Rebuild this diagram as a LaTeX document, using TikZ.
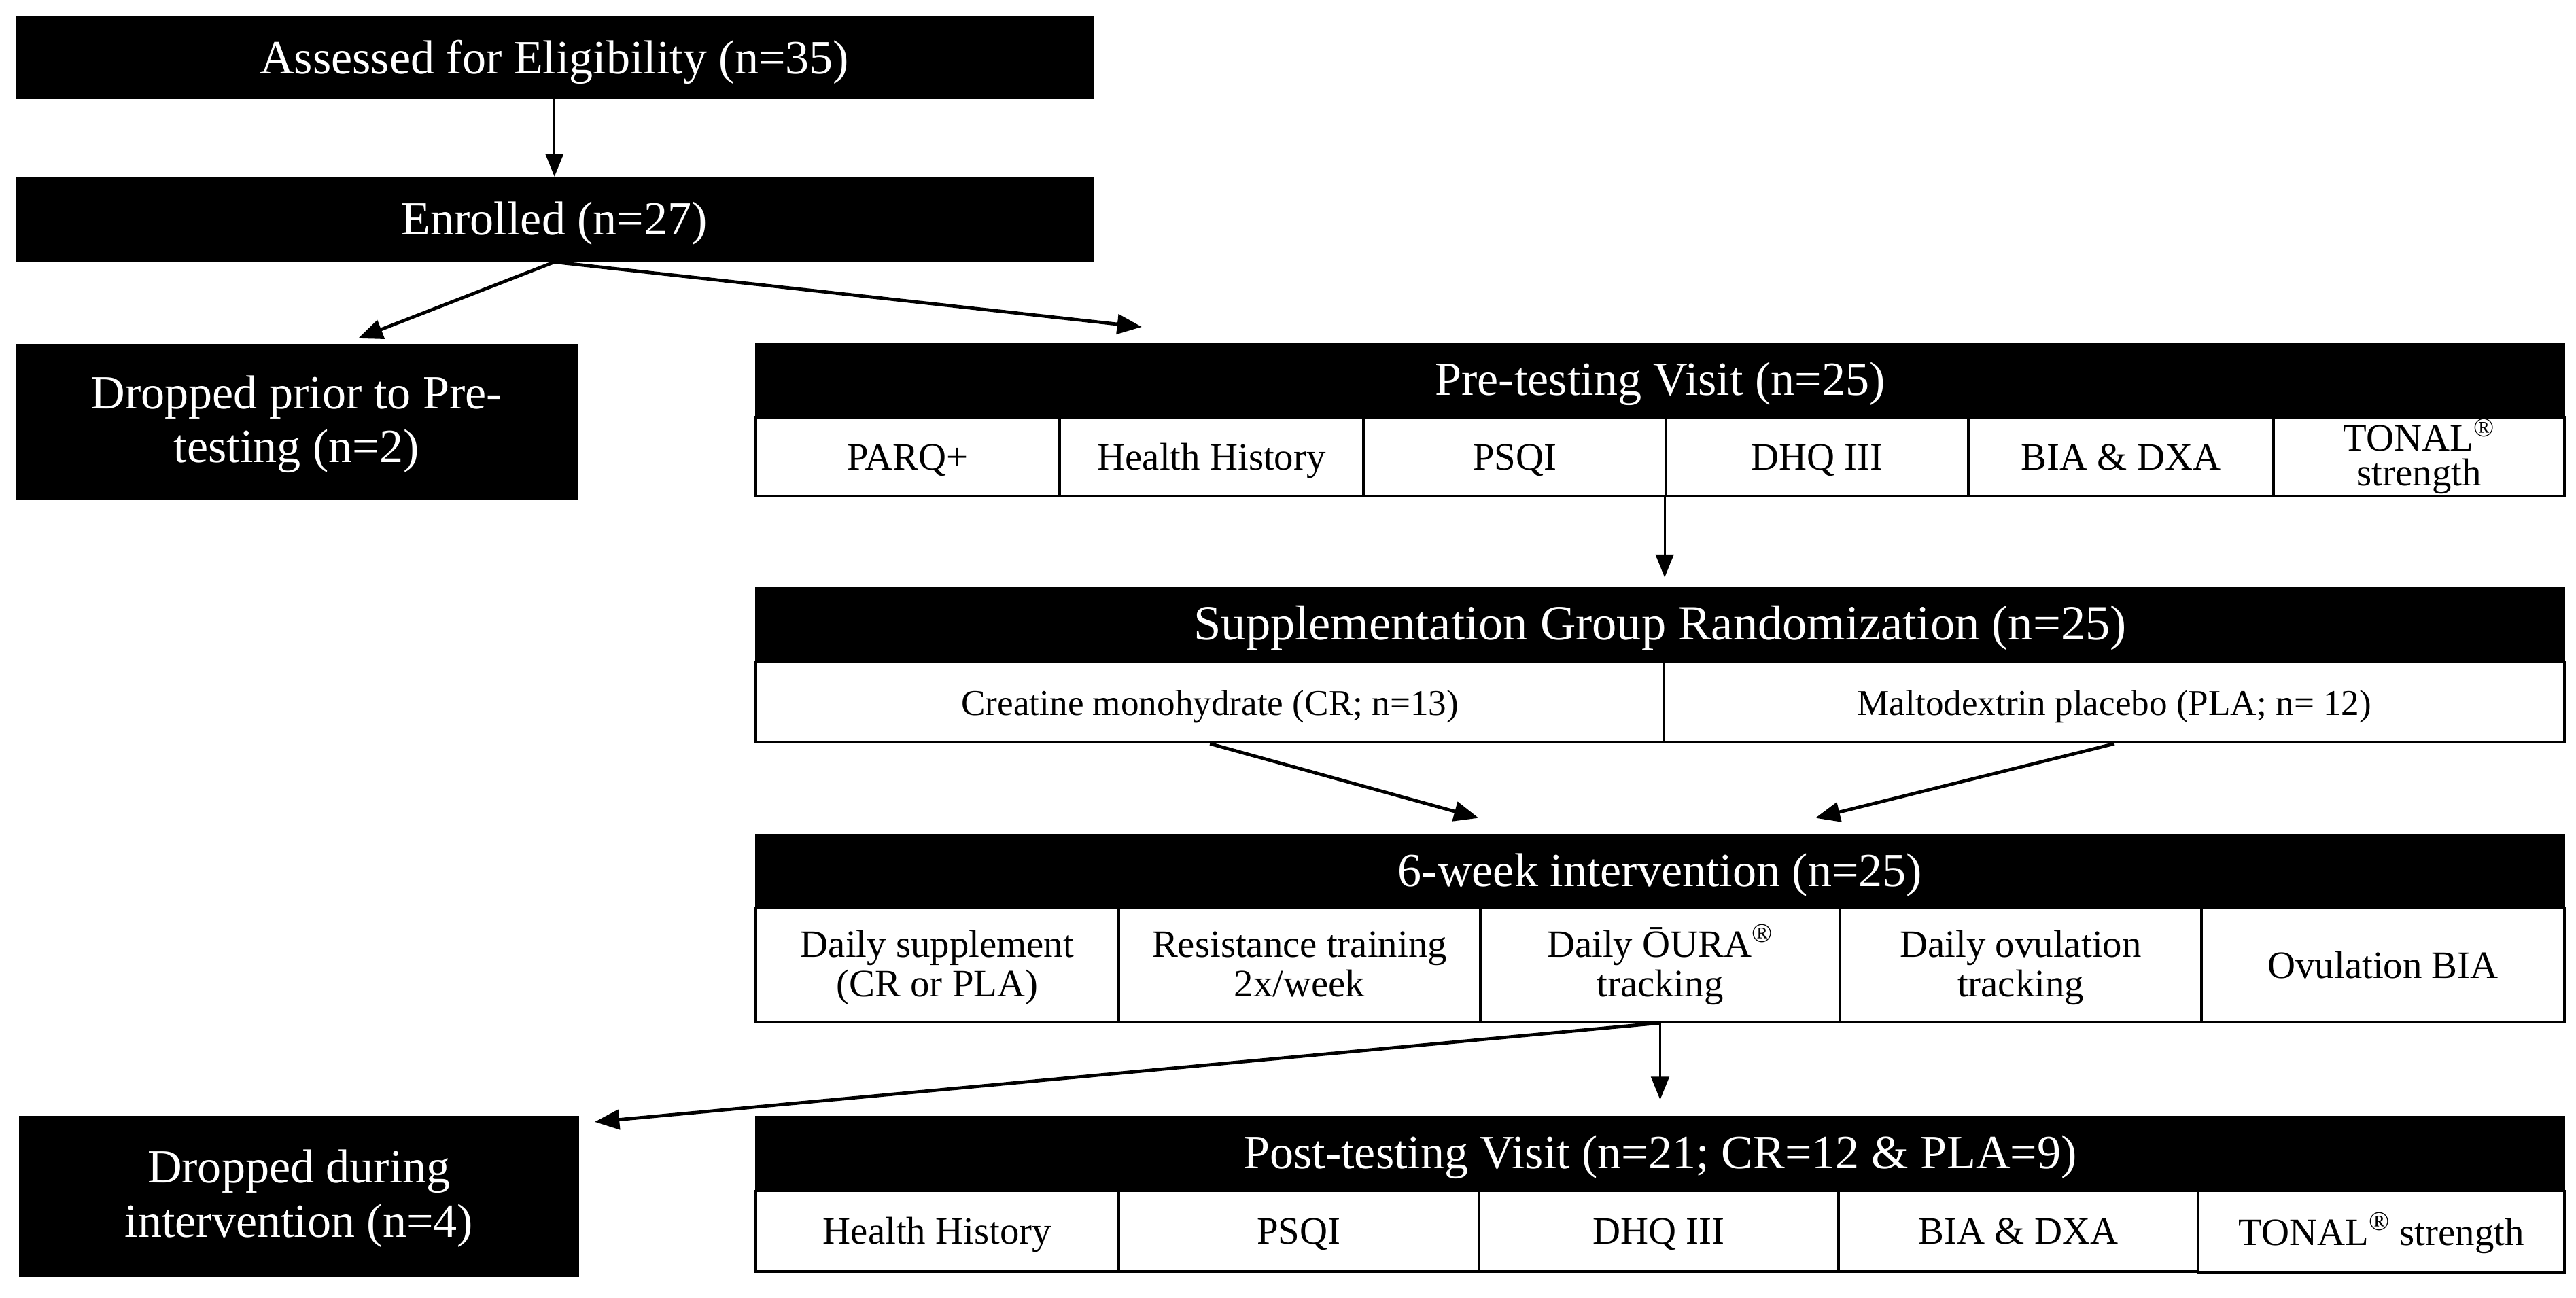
\documentclass[tikz,border=0pt]{standalone}
\usepackage{fontspec}
\setmainfont{Liberation Serif}
\usetikzlibrary{arrows.meta,calc}
\tikzset{
  blkbase/.style={draw=black, fill=black, text=white, inner sep=0pt, line width=1pt,
    font=\fontsize{29}{33}\selectfont, align=center},
  blk/.style={blkbase, text height=18pt, text depth=0pt},
  blkm/.style={blkbase},
  cellbase/.style={draw=black, fill=white, text=black, inner sep=0pt, line width=1.5pt,
    font=\fontsize{23.5}{24}\selectfont, align=center},
  cell/.style={cellbase, text height=16pt, text depth=0pt},
  cellm/.style={cellbase},
  scell/.style={cell, font=\fontsize{22}{24}\selectfont},
  arr/.style={-{Triangle[length=14pt,width=11pt]}, line width=1.3pt},
  darr/.style={-{Triangle[length=15pt,width=12pt]}, line width=2pt},
  sz/.style 2 args={minimum width=#1pt, minimum height=#2pt},
}
\newcommand{\twocell}[2]{\rule{0pt}{20pt}#1\\#2\rule[-5.5pt]{0pt}{5.5pt}}
\newcommand{\twoblk}[2]{\rule{0pt}{22.9pt}#1\\#2\rule[-6.5pt]{0pt}{6.5pt}}
\begin{document}
\begin{tikzpicture}[x=1pt,y=-1pt]
\useasboundingbox (0,0) rectangle (1568,790);
% top boxes
\node[blk, text height=20pt, sz={655}{50}] (A) at (337.5,35) {Assessed for Eligibility (n=35)};
\node[blk, text height=18.6pt, sz={655}{51}] (E) at (337.5,133.5) {Enrolled (n=27)};
\node[blkm, sz={341}{94}] (D1) at (180.5,257) {\twoblk{Dropped prior to Pre-}{testing (n=2)}};
% pre-testing
\node[blk, sz={1101}{45}] (PreH) at (1010.5,231.5) {Pre-testing Visit (n=25)};
\node[cell, sz={185}{48}] (p1) at (552.5,278) {PARQ+};
\node[cell, sz={185}{48}] (p2) at (737.5,278) {Health History};
\node[cell, sz={184}{48}] (p3) at (922,278) {PSQI};
\node[cell, sz={184}{48}] (p4) at (1106,278) {DHQ III};
\node[cell, sz={186}{48}] (p5) at (1291,278) {BIA \& DXA};
\node[cellm, sz={177}{48}, font=\fontsize{23.5}{21}\selectfont] (p6) at (1472.5,278)
  {\rule{0pt}{19pt}TONAL\textsuperscript{\textregistered}\\strength\rule[-5.6pt]{0pt}{5.6pt}};
% randomization
\node[blk, font=\fontsize{30}{33}\selectfont, sz={1101}{45}] (SuppH) at (1010.5,380.5) {Supplementation Group Randomization (n=25)};
\node[scell, sz={553}{49}] (s1) at (736.5,427.5) {Creatine monohydrate (CR; n=13)};
\node[scell, sz={548}{49}] (s2) at (1287,427.5) {Maltodextrin placebo (PLA; n= 12)};
% intervention
\node[blk, sz={1101}{45}] (WkH) at (1010.5,530.5) {6-week intervention (n=25)};
\node[cellm, sz={221}{69}] (w1) at (570.5,587.5) {\twocell{Daily supplement}{(CR or PLA)}};
\node[cellm, sz={220}{69}] (w2) at (791,587.5) {\twocell{Resistance training}{2x/week}};
\node[cellm, sz={219}{69}] (w3) at (1010.5,587.5) {\twocell{Daily ŌURA\textsuperscript{\textregistered}}{tracking}};
\node[cellm, sz={220}{69}] (w4) at (1230,587.5) {\twocell{Daily ovulation}{tracking}};
\node[cell, sz={221}{69}] (w5) at (1450.5,587.5) {Ovulation BIA};
% post-testing
\node[blk, sz={1101}{45}] (PostH) at (1010.5,702.5) {Post-testing Visit (n=21; CR=12 \& PLA=9)};
\node[cell, sz={221}{49}] (q1) at (570.5,749.5) {Health History};
\node[cell, sz={219}{49}] (q2) at (790.5,749.5) {PSQI};
\node[cell, sz={219}{49}] (q3) at (1009.5,749.5) {DHQ III};
\node[cell, sz={219}{49}] (q4) at (1228.5,749.5) {BIA \& DXA};
\node[cell, sz={223}{50}] (q5) at (1449.5,750) {TONAL\textsuperscript{\textregistered} strength};
\node[blkm, sz={340}{97}] (D2) at (182,728.5) {\twoblk{Dropped during}{intervention (n=4)}};
% connector end points
\coordinate (d1tip) at (218,206);
\coordinate (pretip) at (695,199);
\coordinate (wkL) at (900,498);
\coordinate (wkR) at (1105,498);
\coordinate (d2tip) at (362,683);
% connectors
\draw[arr] (A.south) -- (E.north);
\draw[darr] (E.south) -- (d1tip);
\draw[darr] (E.south) -- (pretip);
\draw[arr, shorten >=6pt] (p4.south west) -- (p4.south west |- SuppH.north);
\draw[darr] (s1.south) -- (wkL);
\draw[darr] (s2.south) -- (wkR);
\draw[arr, shorten >=10pt] (w3.south) -- (w3.south |- PostH.north);
\draw[darr] (w3.south) -- (d2tip);
\end{tikzpicture}
\end{document}
